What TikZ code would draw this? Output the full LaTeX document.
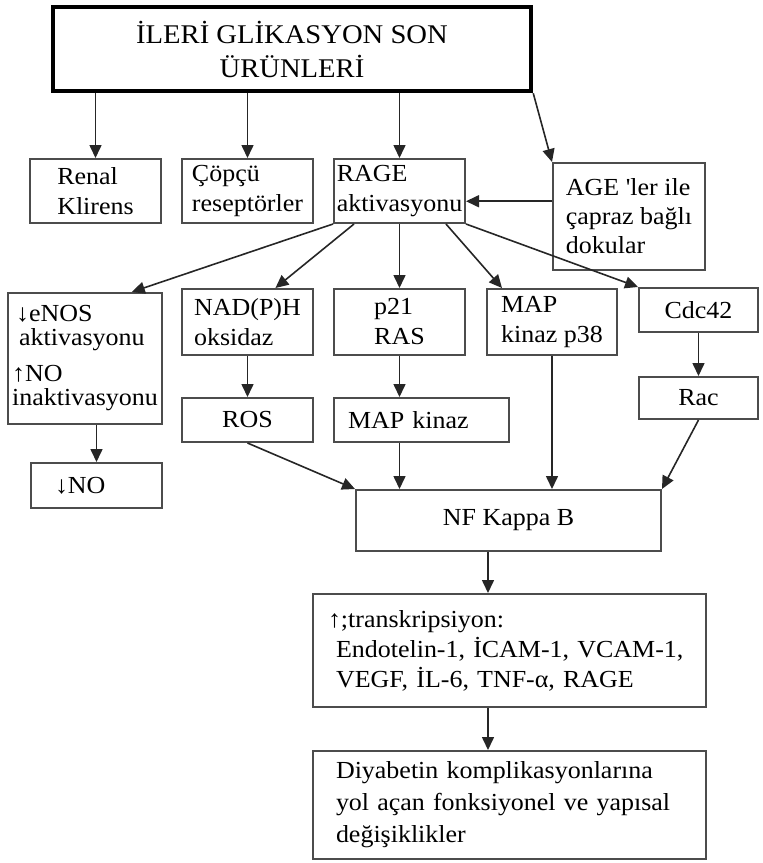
\documentclass[tikz,border=0pt]{standalone}
\usepackage{fontspec}
\setmainfont[FakeStretch=1.06,Ligatures=TeXOff]{Liberation Serif}
\usetikzlibrary{arrows.meta,calc}

\tikzset{
  bx/.style={draw=black!70, line width=2pt, rectangle, inner sep=0pt,
             align=left, font=\fontsize{24.5}{30}\selectfont},
  topbx/.style={draw=black, line width=4.5pt, rectangle, inner sep=0pt,
             align=center, font=\fontsize{27}{34}\selectfont},
  arr/.style={draw=black!85, line width=1.6pt,
              -{Triangle[length=13pt,width=12pt]}},
}

\begin{document}
\begin{tikzpicture}[x=1pt,y=-1pt]
\useasboundingbox (0,0) rectangle (763,863);

% main source box
\node[topbx, minimum width=478pt, minimum height=84pt] (top) at (292,49)
  {İLERİ GLİKASYON SON\\ÜRÜNLERİ};

% first row
\node[bx, minimum width=131pt, minimum height=64pt] (renal) at (95.5,191)
  {Renal\\Klirens};
\node[bx, minimum width=131pt, minimum height=64pt] (copcu) at (247.5,191)
  {Çöpçü\\reseptörler};
\node[bx, minimum width=131pt, minimum height=64pt] (rage) at (399.5,191)
  {RAGE\\aktivasyonu};
\node[bx, minimum width=152pt, minimum height=107pt,
      font=\fontsize{24.5}{29}\selectfont] (age) at (629,216.5)
  {AGE 'ler ile\\çapraz bağlı\\dokular};

% second row
\node[bx, minimum width=154pt, minimum height=131pt,
      font=\fontsize{24.5}{24}\selectfont] (enos) at (85,358.5)
  {\hspace*{4pt}↓eNOS\\\hspace*{7pt}aktivasyonu\\[12pt]↑NO\\inaktivasyonu};
\node[bx, minimum width=131pt, minimum height=66pt] (nadph) at (247.5,322)
  {NAD(P)H\\oksidaz};
\node[bx, minimum width=131pt, minimum height=66pt] (p21) at (399.5,322)
  {p21\\RAS};
\node[bx, minimum width=130pt, minimum height=66pt] (p38) at (552,322)
  {MAP\\kinaz p38};
\node[bx, minimum width=119pt, minimum height=44pt] (cdc) at (698.5,310)
  {Cdc42};

% third row
\node[bx, minimum width=131pt, minimum height=44pt] (ros) at (247.5,420)
  {ROS};
\node[bx, minimum width=175pt, minimum height=44pt,
      inner xsep=14pt, text width=147pt] (mapk) at (421.5,420)
  {MAP kinaz};
\node[bx, minimum width=119pt, minimum height=42pt] (rac) at (698.5,398)
  {Rac};
\node[bx, minimum width=131pt, minimum height=45pt,
      inner xsep=24pt, text width=83pt] (no) at (96.5,485.5)
  {↓NO};

% lower chain
\node[bx, minimum width=305pt, minimum height=61pt] (nf) at (508.5,520.5)
  {NF Kappa B};
\node[bx, minimum width=393pt, minimum height=113pt,
      inner xsep=15pt, text width=363pt] (tr) at (509.5,650.5)
  {↑;transkripsiyon:\\
   \hspace*{8pt}Endotelin-1, İCAM-1, VCAM-1,\\
   \hspace*{8pt}VEGF, İL-6, TNF-α, RAGE};
\node[bx, minimum width=393pt, minimum height=108pt,
      inner xsep=23pt, text width=347pt,
      font=\fontsize{24.5}{32}\selectfont] (fin) at (509.5,805)
  {Diyabetin komplikasyonlarına\\yol açan fonksiyonel ve yapısal\\değişiklikler};

% helper points
\coordinate (agein) at ($(age.north west)!0.36!(age.south west)$);
\coordinate (mid) at (488,0);

% connectors from the source box
\draw[arr] (renal.north |- top.south) -- (renal.north);
\draw[arr] (copcu.north |- top.south) -- (copcu.north);
\draw[arr] (rage.north |- top.south) -- (rage.north);
\draw[arr] (top.south east) -- (age.north west);
\draw[arr] (agein) -- (agein -| rage.east);

% connectors from RAGE
\draw[arr] (rage.south west) -- ($(enos.north west)!0.8!(enos.north east)$);
\draw[arr] ($(rage.south west)+(21,0)$) -- ($(nadph.north west)!0.71!(nadph.north east)$);
\draw[arr] (rage.south) -- (p21.north);
\draw[arr] ($(rage.south east)+(-20,0)$) -- ($(p38.north west)+(16,0)$);
\draw[arr] (rage.south east) -- (cdc.north west);

% middle steps
\draw[arr] (no.north |- enos.south) -- (no.north);
\draw[arr] (nadph.south) -- (ros.north);
\draw[arr] (p21.south) -- (p21.south |- mapk.north);
\draw[arr] (cdc.south) -- (rac.north);

% into NF Kappa B
\draw[arr] (ros.south) -- (nf.north west);
\draw[arr] (p21.south |- mapk.south) -- (p21.south |- nf.north);
\draw[arr] (p38.south) -- (p38.south |- nf.north);
\draw[arr] (rac.south) -- (nf.north east);

% lower chain
\draw[arr] (mid |- nf.south) -- (mid |- tr.north);
\draw[arr] (mid |- tr.south) -- (mid |- fin.north);
\end{tikzpicture}
\end{document}
